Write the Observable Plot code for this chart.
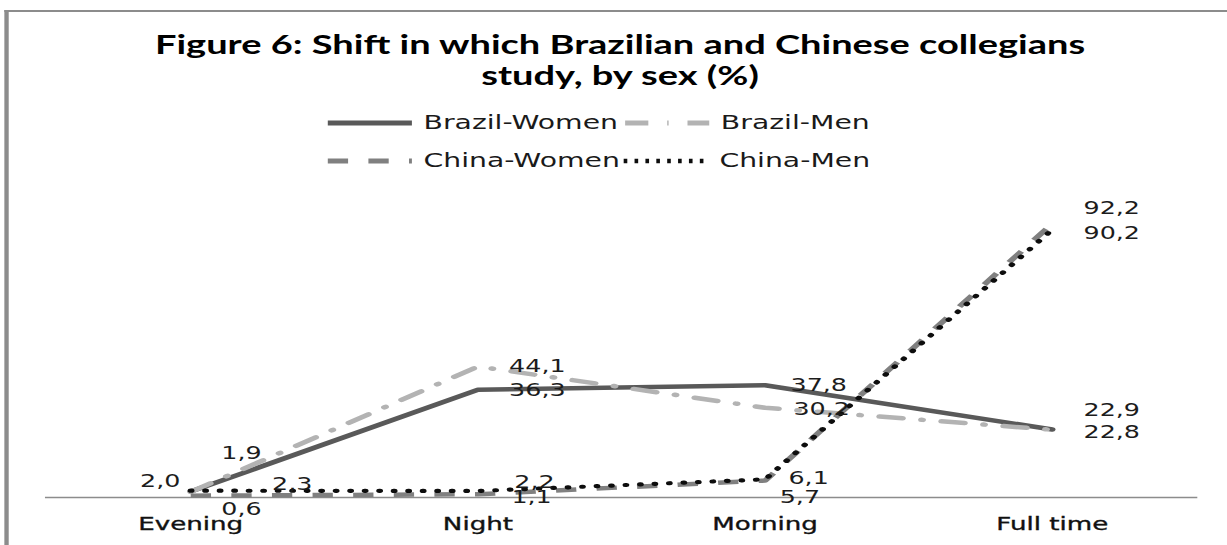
<!DOCTYPE html>
<html>
<head>
<meta charset="utf-8">
<script src="https://cdn.jsdelivr.net/npm/d3@7"></script>
<script src="https://cdn.jsdelivr.net/npm/@observablehq/plot@0.6"></script>
<style>
  html, body { margin: 0; padding: 0; background: #fff; overflow: hidden; }
  /* The whole figure is laid out at 846px and widened to 1227px. */
  #page {
    position: relative; width: 846px; height: 545px;
    transform: scaleX(1.4504); transform-origin: 0 0; overflow: hidden;
  }
  #frame {
    position: absolute; left: 3.4px; top: 10px; width: 900px; height: 600px;
    border-left: 3px solid #8c8c8c; border-top: 2.5px solid #8c8c8c;
  }
  #title {
    position: absolute; left: 0; top: 29px; width: 855px; text-align: center;
    font-family: "Lato", sans-serif; font-weight: 700; font-size: 26.2px;
    line-height: 31px; color: #000;
  }
  .legend-item { position: absolute; height: 24px; }
  .legend-item svg { position: absolute; left: 0; top: 0; }
  .legend-item span {
    position: absolute; top: 0; line-height: 24px; white-space: nowrap;
    font-family: "DejaVu Sans", sans-serif; font-size: 19.5px; color: #1a1a1a;
  }
  #chart { position: absolute; left: 0; top: 190px; }
  #chart svg [aria-label="x-axis tick label"] text { stroke: currentColor; stroke-width: 0.35px; }
</style>
</head>
<body>
<div id="page">
  <div id="frame"></div>
  <div id="title">Figure 6: Shift in which Brazilian and Chinese collegians<br>study, by sex (%)</div>
  <div id="legend"></div>
  <div id="chart"></div>
</div>
<script>
// Study shift of Brazilian and Chinese college students, by sex (%)
const categories = ["Evening", "Night", "Morning", "Full time"];
const seriesNames = ["Brazil-Women", "Brazil-Men", "China-Women", "China-Men"];
const brazilWomen = [2.0, 36.3, 37.8, 22.9];
const brazilMen = [1.9, 44.1, 30.2, 22.8];
const chinaWomen = [0.6, 1.1, 5.7, 92.2];
const chinaMen = [2.3, 2.2, 6.1, 90.2];

const seriesValues = {
  "Brazil-Women": brazilWomen,
  "Brazil-Men": brazilMen,
  "China-Women": chinaWomen,
  "China-Men": chinaMen
};

// Line look for each series
const seriesStyle = {
  "Brazil-Women": {stroke: "#595959", strokeWidth: 4.5, strokeDasharray: null, strokeLinecap: "round"},
  "Brazil-Men": {stroke: "#b3b3b3", strokeWidth: 4.5, strokeDasharray: "16 13 1 13", strokeLinecap: "round"},
  "China-Women": {stroke: "#808080", strokeWidth: 4.5, strokeDasharray: "14 14", strokeLinecap: "butt"},
  "China-Men": {stroke: "#0d0d0d", strokeWidth: 4.2, strokeDasharray: "0.5 9.5", strokeLinecap: "round"}
};

// Value-label offsets [dx, dy] in px from each point, per category
const labelOffset = {
  "Brazil-Women": [[-21, -10], [41, 1], [37, 0], [41, -19]],
  "Brazil-Men": [[35, -38], [41, 0], [39, 2], [41, 3]],
  "China-Women": [[35, 14], [37, 3], [24, 17], [41, -15]],
  "China-Men": [[70, -6], [39, -9], [30, -1], [41, 4]]
};

// Legend placement (left px, centre y px) for each entry
const legendPlace = {
  "Brazil-Women": [224, 123],
  "Brazil-Men": [429, 123],
  "China-Women": [224, 161],
  "China-Men": [428, 161]
};

const fmt = v => v.toFixed(1).replace(".", ",");

// Legend
const legend = d3.select("#legend");
for (const name of seriesNames) {
  const s = seriesStyle[name];
  const [left, cy] = legendPlace[name];
  const item = legend.append("div").attr("class", "legend-item")
    .style("left", left + "px").style("top", (cy - 12) + "px");
  const sw = 62;
  const svg = item.append("svg").attr("width", sw).attr("height", 24);
  svg.append("line")
    .attr("x1", 2).attr("x2", sw - 2).attr("y1", 12).attr("y2", 12)
    .attr("stroke", s.stroke).attr("stroke-width", s.strokeWidth + 0.5)
    .attr("stroke-dasharray", name === "China-Men" ? "2.5 5" : s.strokeDasharray)
    .attr("stroke-linecap", "butt");
  item.append("span").style("left", (sw + 6) + "px").text(name);
}

// Chart
const marks = [Plot.ruleY([0], {stroke: "#8c8c8c", strokeWidth: 1.5})];
for (const name of seriesNames) {
  const rows = categories.map((c, i) => ({category: c, value: seriesValues[name][i]}));
  const s = seriesStyle[name];
  marks.push(Plot.line(rows, {
    x: "category", y: "value",
    stroke: s.stroke, strokeWidth: s.strokeWidth,
    strokeDasharray: s.strokeDasharray, strokeLinecap: s.strokeLinecap,
    strokeLinejoin: "round"
  }));
}
for (const name of seriesNames) {
  categories.forEach((c, i) => {
    const [dx, dy] = labelOffset[name][i];
    marks.push(Plot.text([{category: c, value: seriesValues[name][i]}], {
      x: "category", y: "value", text: d => fmt(d.value),
      dx, dy, fontSize: 17.5, fill: "#1c1c1c", textAnchor: "middle"
    }));
  });
}
marks.push(Plot.axisX({tickSize: 0, tickPadding: 20, fontSize: 18, label: null}));

const chart = Plot.plot({
  width: 846, height: 355,
  marginTop: 10, marginBottom: 48, marginLeft: 31, marginRight: 20.5,
  style: {fontFamily: "DejaVu Sans, sans-serif", color: "#111", background: "transparent", overflow: "visible"},
  x: {type: "point", domain: categories, padding: 0.5, align: 0.5},
  y: {domain: [0, 100], axis: null},
  marks
});
document.getElementById("chart").append(chart);
</script>
</body>
</html>
